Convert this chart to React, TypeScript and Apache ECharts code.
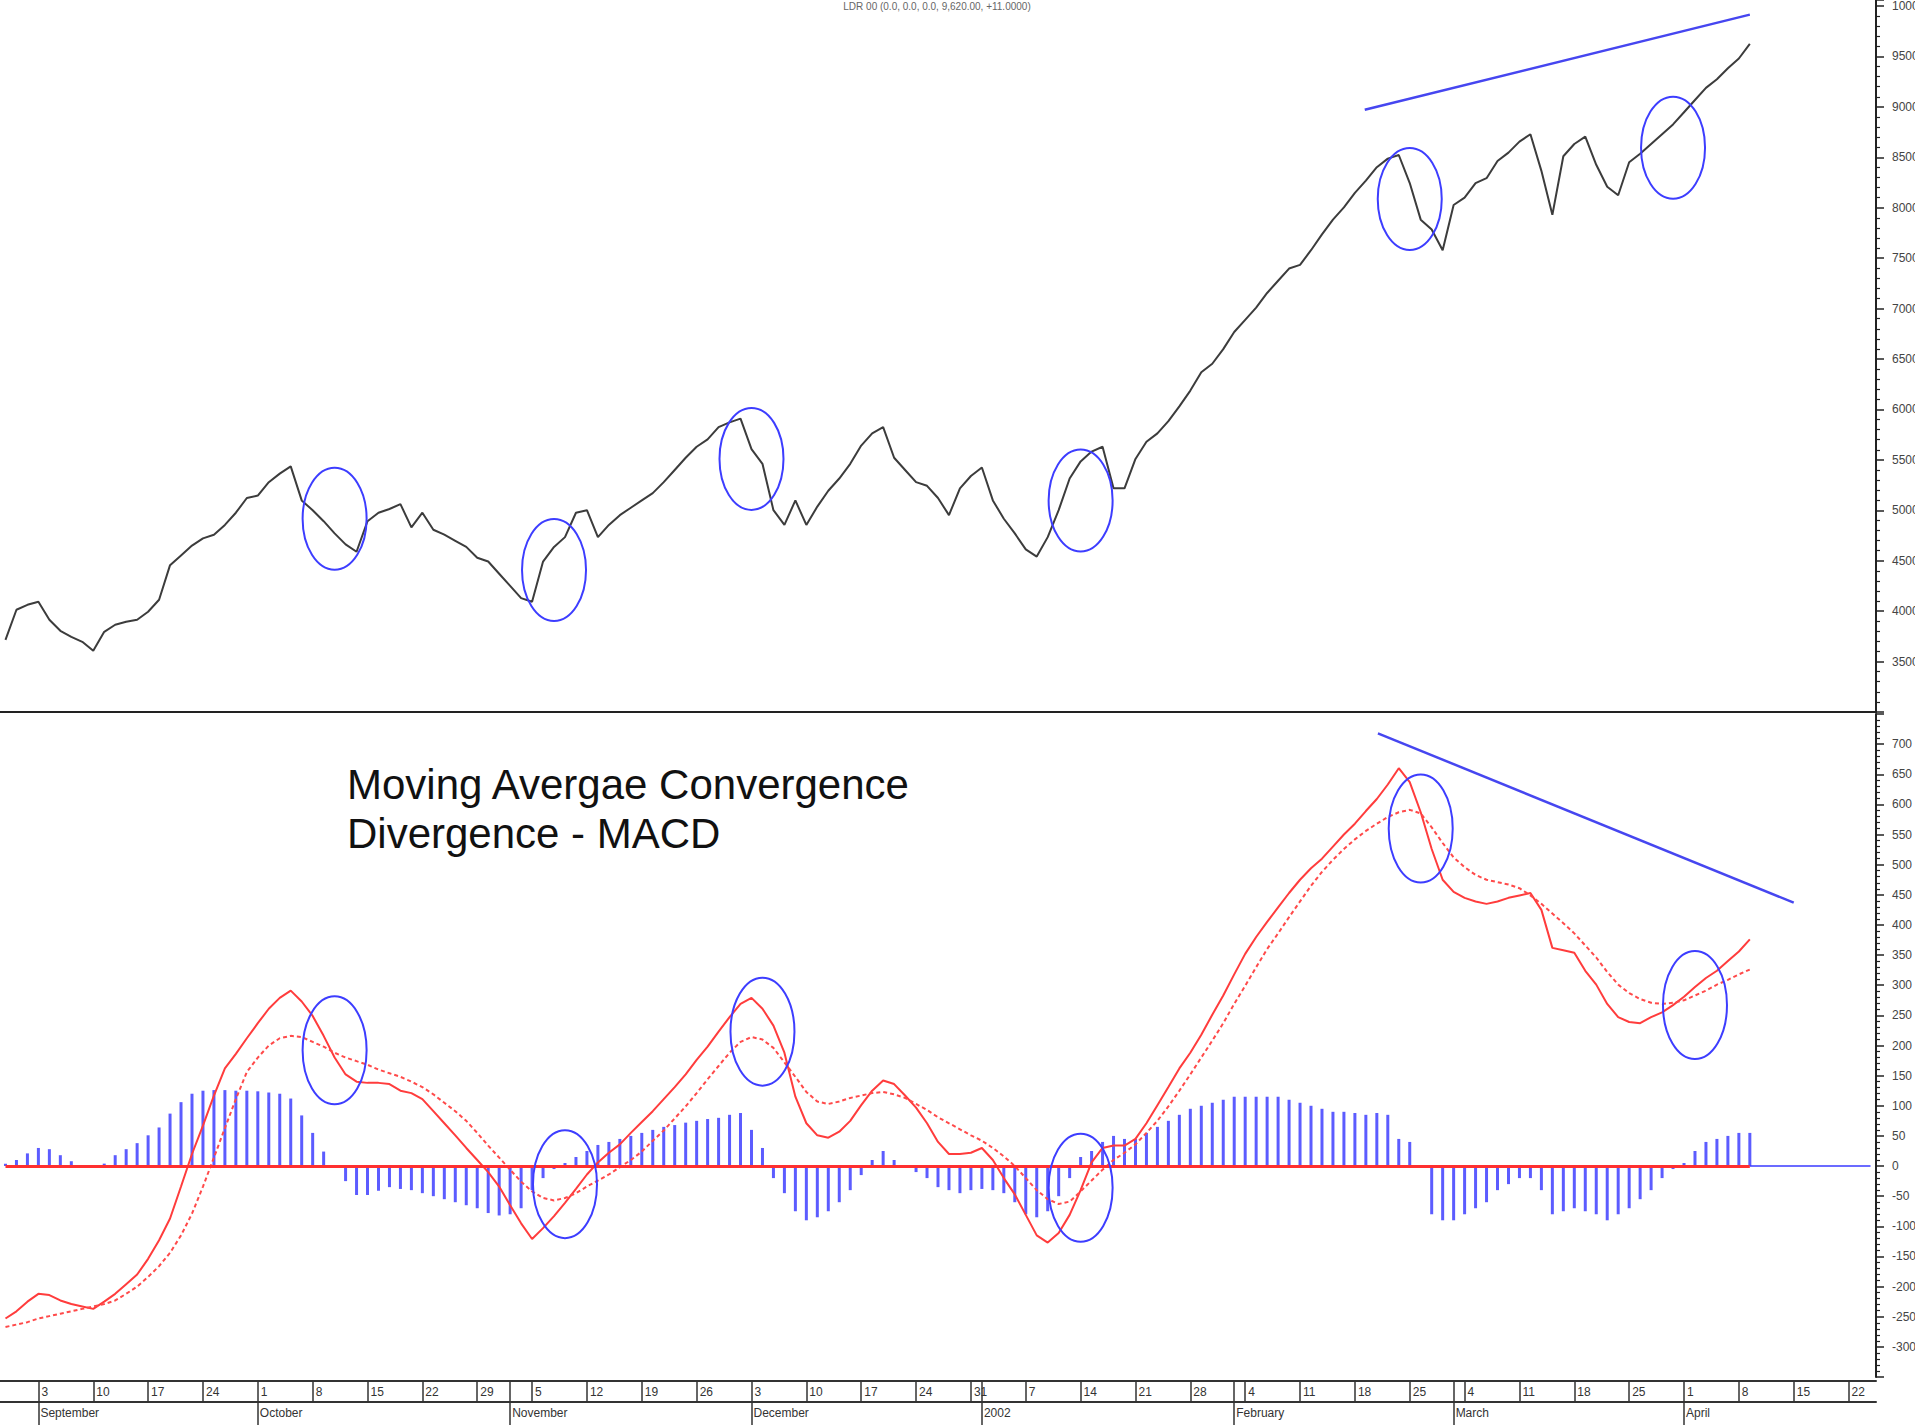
import React, { useEffect, useRef } from "react";
import * as echarts from "echarts";

// ---- categories: trading days (weekdays) from 29 Aug 2001 to 24 Apr 2002 ----
const FIRST_DAY = "2001-08-29";
const LAST_DAY = "2002-04-24";
function buildDays(): string[] {
  const out: string[] = [];
  const end = Date.parse(LAST_DAY + "T00:00:00Z");
  for (let t = Date.parse(FIRST_DAY + "T00:00:00Z"); t <= end; t += 86400000) {
    const d = new Date(t);
    const wd = d.getUTCDay();
    if (wd !== 0 && wd !== 6) out.push(d.toISOString().slice(0, 10));
  }
  return out;
}
const days = buildDays();

const monthLabels: Record<string, string> = {
  "09": "September",
  "10": "October",
  "11": "November",
  "12": "December",
  "01": "2002",
  "02": "February",
  "03": "March",
  "04": "April",
};

// ---- price (top panel) ----
const price = [
  3716, 4014, 4063, 4093, 3915, 3805, 3745, 3696, 3607, 3795,
  3865, 3894, 3915, 3994, 4113, 4456, 4553, 4650, 4722, 4758,
  4855, 4976, 5122, 5146, 5279, 5364, 5436, 5098, 5001, 4892,
  4771, 4662, 4589, 4892, 4976, 5013, 5061, 4831, 4976, 4807,
  4758, 4698, 4637, 4529, 4492, 4371, 4250, 4129, 4093, 4492,
  4637, 4734, 4976, 5001, 4734, 4855, 4952, 5025, 5098, 5170,
  5279, 5400, 5521, 5630, 5703, 5824, 5872, 5909, 5606, 5461,
  5001, 4855, 5098, 4855, 5037, 5194, 5315, 5461, 5642, 5763,
  5824, 5521, 5400, 5279, 5243, 5122, 4952, 5218, 5340, 5424,
  5098, 4916, 4771, 4613, 4541, 4734, 5001, 5315, 5485, 5582,
  5630, 5218, 5218, 5509, 5679, 5763, 5884, 6030, 6187, 6369,
  6453, 6598, 6768, 6889, 7010, 7155, 7276, 7397, 7434, 7579,
  7736, 7882, 8003, 8148, 8269, 8402, 8487, 8523, 8245, 7882,
  7785, 7579, 8027, 8100, 8245, 8293, 8463, 8547, 8656, 8729,
  8366, 7930, 8511, 8632, 8705, 8426, 8208, 8124, 8451, 8535,
  8632, 8729, 8826, 8947, 9068, 9189, 9274, 9383, 9480, 9625,
];

// ---- MACD (bottom panel) ----
const macd = [
  -253, -241, -225, -212, -214, -223, -229, -233, -237, -225,
  -212, -196, -180, -154, -123, -87, -34, 20, 67, 117,
  162, 186, 212, 237, 261, 279, 291, 273, 249, 216,
  180, 152, 140, 138, 138, 136, 125, 121, 111, 91,
  71, 51, 30, 10, -10, -34, -65, -95, -121, -103,
  -83, -61, -38, -14, 6, 22, 36, 55, 73, 91,
  111, 131, 152, 176, 198, 223, 247, 269, 279, 261,
  233, 188, 115, 71, 51, 47, 57, 75, 101, 125,
  142, 136, 117, 97, 71, 40, 20, 20, 22, 30,
  10, -20, -47, -81, -115, -127, -111, -81, -40, 6,
  30, 34, 34, 45, 71, 101, 131, 162, 188, 218,
  251, 283, 318, 352, 380, 405, 429, 453, 475, 494,
  510, 530, 550, 568, 589, 609, 633, 660, 637, 587,
  526, 475, 455, 445, 439, 435, 439, 445, 449, 453,
  425, 362, 358, 354, 324, 301, 269, 247, 239, 237,
  247, 255, 267, 281, 297, 312, 324, 340, 356, 376,
];

const signal = [
  -267, -263, -259, -253, -249, -245, -241, -237, -233, -229,
  -223, -212, -200, -184, -166, -144, -115, -79, -34, 14,
  63, 111, 156, 180, 200, 212, 216, 214, 206, 198,
  188, 180, 174, 168, 160, 154, 148, 140, 131, 119,
  105, 91, 75, 55, 34, 14, -6, -26, -42, -53,
  -57, -53, -45, -34, -24, -14, -2, 10, 24, 42,
  59, 79, 99, 121, 144, 166, 188, 206, 214, 210,
  196, 172, 148, 123, 107, 103, 107, 113, 117, 121,
  123, 119, 113, 103, 93, 81, 71, 61, 51, 42,
  30, 16, 0, -20, -40, -55, -63, -59, -42, -24,
  -6, 10, 22, 36, 55, 75, 99, 125, 152, 180,
  208, 237, 269, 299, 330, 360, 386, 413, 439, 465,
  488, 508, 526, 542, 556, 568, 579, 587, 591, 585,
  562, 536, 512, 496, 483, 475, 471, 467, 461, 449,
  435, 419, 403, 386, 366, 346, 322, 301, 287, 277,
  271, 269, 271, 275, 283, 291, 301, 309, 318, 326,
];

const histogram = [
  4, 10, 21, 30, 28, 18, 8, 0, 0, 4,
  18, 28, 38, 51, 64, 87, 106, 120, 125, 126,
  126, 125, 125, 124, 122, 120, 112, 84, 55, 24,
  0, -25, -48, -48, -41, -35, -38, -40, -45, -50,
  -55, -60, -65, -70, -78, -82, -80, -70, -40, -20,
  -5, 5, 15, 25, 35, 40, 45, 50, 55, 60,
  65, 68, 72, 75, 78, 80, 85, 88, 60, 30,
  -20, -45, -75, -90, -85, -75, -60, -40, -15, 10,
  25, 10, 0, -10, -20, -35, -40, -45, -40, -38,
  -40, -45, -60, -80, -85, -75, -50, -20, 15, 25,
  40, 50, 45, 45, 55, 65, 75, 85, 95, 100,
  105, 110, 115, 115, 115, 115, 115, 110, 105, 100,
  95, 90, 90, 88, 85, 88, 85, 45, 40, 0,
  -80, -90, -90, -80, -70, -60, -40, -30, -20, -20,
  -40, -80, -75, -70, -75, -80, -90, -80, -70, -55,
  -40, -20, -5, 5, 25, 40, 45, 50, 55, 55,
];

// ---- annotations (data coordinates: [day index, value]) ----
const topCircles: [number, number][] = [
  [30, 4916], [50, 4408], [68, 5509], [98, 5097], [128, 8087], [152, 8596],
];
const bottomCircles: [number, number][] = [
  [30, 192], [51, -30], [69, 223], [98, -36], [129, 560], [154, 267],
];
const topTrend: [number, number][] = [[123.9, 8971], [159, 9915]];
const bottomTrend: [number, number][] = [[125.1, 718], [163, 437]];

const AXIS_FONT = "'Liberation Sans', Arial, sans-serif";

function isMonday(v: string) {
  return new Date(v + "T00:00:00Z").getUTCDay() === 1;
}
function isMonthStart(idx: number) {
  if (idx <= 0) return false;
  const m = days[idx].slice(5, 7);
  const p = days[idx - 1].slice(5, 7);
  return m !== p;
}

export default function App() {
  const ref = useRef<HTMLDivElement>(null);
  useEffect(() => {
    const el = ref.current!;
    const chart = echarts.init(el, null, { renderer: "svg" });
    const lastIdx = price.length - 1;
    const yAxisCommon = {
      type: "value" as const,
      position: "right" as const,
      splitLine: { show: false },
      axisLine: { show: true, lineStyle: { color: "#222", width: 2 } },
      axisTick: { show: true, inside: false, length: 8, lineStyle: { color: "#222", width: 1.5 } },
      minorTick: { show: true, splitNumber: 5, length: 4, lineStyle: { color: "#222", width: 1.2 } },
      axisLabel: {
        showMinLabel: false,
        showMaxLabel: false,
        fontSize: 12,
        color: "#444",
        margin: 16,
        fontFamily: AXIS_FONT,
        formatter: (v: number) => String(v),
      },
    };
    chart.setOption({
      animation: false,
      backgroundColor: "#ffffff",
      grid: [
        { left: 0, right: 39, top: 0, height: 712, outerBoundsMode: "none", containLabel: false },
        { left: 0, right: 39, top: 714, height: 663, outerBoundsMode: "none", containLabel: false },
      ],
      xAxis: [
        {
          gridIndex: 0,
          type: "category",
          data: days,
          boundaryGap: true,
          axisLine: { show: true, onZero: false, lineStyle: { color: "#222", width: 2 } },
          axisTick: { show: false },
          axisLabel: { show: false },
        },
        {
          gridIndex: 1,
          type: "category",
          data: days,
          boundaryGap: true,
          position: "bottom",
          offset: 4,
          axisLine: { show: true, onZero: false, lineStyle: { color: "#333", width: 2 } },
          axisTick: {
            show: true,
            alignWithLabel: true,
            length: 21,
            interval: (i: number, v: string) => isMonday(v) || isMonthStart(i),
            lineStyle: { color: "#333", width: 1.5 },
          },
          axisLabel: {
            show: true,
            interval: (_i: number, v: string) => isMonday(v),
            formatter: (v: string) => String(parseInt(v.slice(8, 10), 10)),
            align: "left",
            padding: [0, 0, 0, 3],
            margin: 5,
            fontSize: 12,
            color: "#333",
            fontFamily: AXIS_FONT,
          },
        },
        {
          gridIndex: 1,
          type: "category",
          data: days,
          boundaryGap: true,
          position: "bottom",
          offset: 25,
          axisLine: { show: true, onZero: false, lineStyle: { color: "#333", width: 2 } },
          axisTick: {
            show: true,
            alignWithLabel: true,
            length: 24,
            interval: (i: number) => isMonthStart(i) || i === 3,
            lineStyle: { color: "#333", width: 1.5 },
          },
          axisLabel: {
            show: true,
            interval: (i: number) => isMonthStart(i) || i === 3,
            formatter: (v: string) => monthLabels[v.slice(5, 7)] || "",
            align: "left",
            padding: [0, 0, 0, 2],
            margin: 5,
            fontSize: 12,
            color: "#333",
            fontFamily: AXIS_FONT,
          },
        },
      ],
      yAxis: [
        { ...yAxisCommon, gridIndex: 0, min: 3000, max: 10060, interval: 500 },
        { ...yAxisCommon, gridIndex: 1, min: -350, max: 750, interval: 50 },
      ],
      series: [
        {
          name: "Histogram",
          type: "bar",
          xAxisIndex: 1,
          yAxisIndex: 1,
          data: histogram,
          barWidth: 3,
          itemStyle: { color: "#5c5cff" },
          z: 2,
        },
        {
          name: "MACD",
          type: "line",
          xAxisIndex: 1,
          yAxisIndex: 1,
          data: macd,
          symbol: "none",
          lineStyle: { color: "#ff3c3c", width: 2 },
          z: 4,
          markLine: {
            silent: true,
            symbol: "none",
            label: { show: false },
            data: [
              [
                { coord: [0, 0], lineStyle: { color: "#ff3030", width: 3, type: "solid" } },
                { coord: [lastIdx, 0] },
              ],
              [
                { coord: [lastIdx, 0], lineStyle: { color: "#3a3aff", width: 1.5, type: "solid" } },
                { coord: [days.length - 1, 0] },
              ],
            ],
          },
        },
        {
          name: "Signal",
          type: "line",
          xAxisIndex: 1,
          yAxisIndex: 1,
          data: signal,
          symbol: "none",
          lineStyle: { color: "#ff4a4a", width: 2, type: [4, 3] },
          z: 4,
        },
        {
          name: "Price",
          type: "line",
          xAxisIndex: 0,
          yAxisIndex: 0,
          data: price,
          symbol: "none",
          lineStyle: { color: "#3c3c3c", width: 2 },
          z: 5,
        },
      ],
    });

    const toPx = (gridIndex: number, p: [number, number]) => {
      const i0 = Math.floor(p[0]);
      const f = p[0] - i0;
      const a = chart.convertToPixel({ gridIndex }, [i0, p[1]]) as number[];
      if (f === 0) return a;
      const b = chart.convertToPixel({ gridIndex }, [i0 + 1, p[1]]) as number[];
      return [a[0] + f * (b[0] - a[0]), a[1]];
    };
    const blue = "#3d3dff";
    const graphics: any[] = [];
    topCircles.forEach((c) => {
      const [cx, cy] = toPx(0, c);
      graphics.push({
        type: "ellipse",
        shape: { cx, cy, rx: 32, ry: 51 },
        style: { fill: "none", stroke: blue, lineWidth: 2 },
        z: 100,
      });
    });
    bottomCircles.forEach((c) => {
      const [cx, cy] = toPx(1, c);
      graphics.push({
        type: "ellipse",
        shape: { cx, cy, rx: 32, ry: 54 },
        style: { fill: "none", stroke: blue, lineWidth: 2 },
        z: 100,
      });
    });
    const t0 = toPx(0, topTrend[0]);
    const t1 = toPx(0, topTrend[1]);
    graphics.push({
      type: "line",
      shape: { x1: t0[0], y1: t0[1], x2: t1[0], y2: t1[1] },
      style: { stroke: "#4646f0", lineWidth: 2.5 },
      z: 100,
    });
    const b0 = toPx(1, bottomTrend[0]);
    const b1 = toPx(1, bottomTrend[1]);
    graphics.push({
      type: "line",
      shape: { x1: b0[0], y1: b0[1], x2: b1[0], y2: b1[1] },
      style: { stroke: "#4646f0", lineWidth: 2.5 },
      z: 100,
    });
    graphics.push({
      type: "text",
      x: 347,
      y: 760,
      style: {
        text: "Moving Avergae Convergence\nDivergence - MACD",
        fontSize: 42,
        lineHeight: 49,
        fill: "#111",
        fontFamily: "'Liberation Sans', Arial, sans-serif",
      },
      z: 100,
    });
    graphics.push({
      type: "text",
      x: 937,
      y: 1,
      style: {
        text: "LDR 00 (0.0, 0.0, 0.0, 9,620.00, +11.0000)",
        fontSize: 10,
        fill: "#666",
        align: "center",
        verticalAlign: "top",
        fontFamily: AXIS_FONT,
      },
      z: 100,
    });
    chart.setOption({ graphic: graphics });
    return () => chart.dispose();
  }, []);
  return (
    <div
      ref={ref}
      style={{ position: "absolute", left: 0, top: 0, width: 1915, height: 1425, background: "#fff" }}
    />
  );
}
